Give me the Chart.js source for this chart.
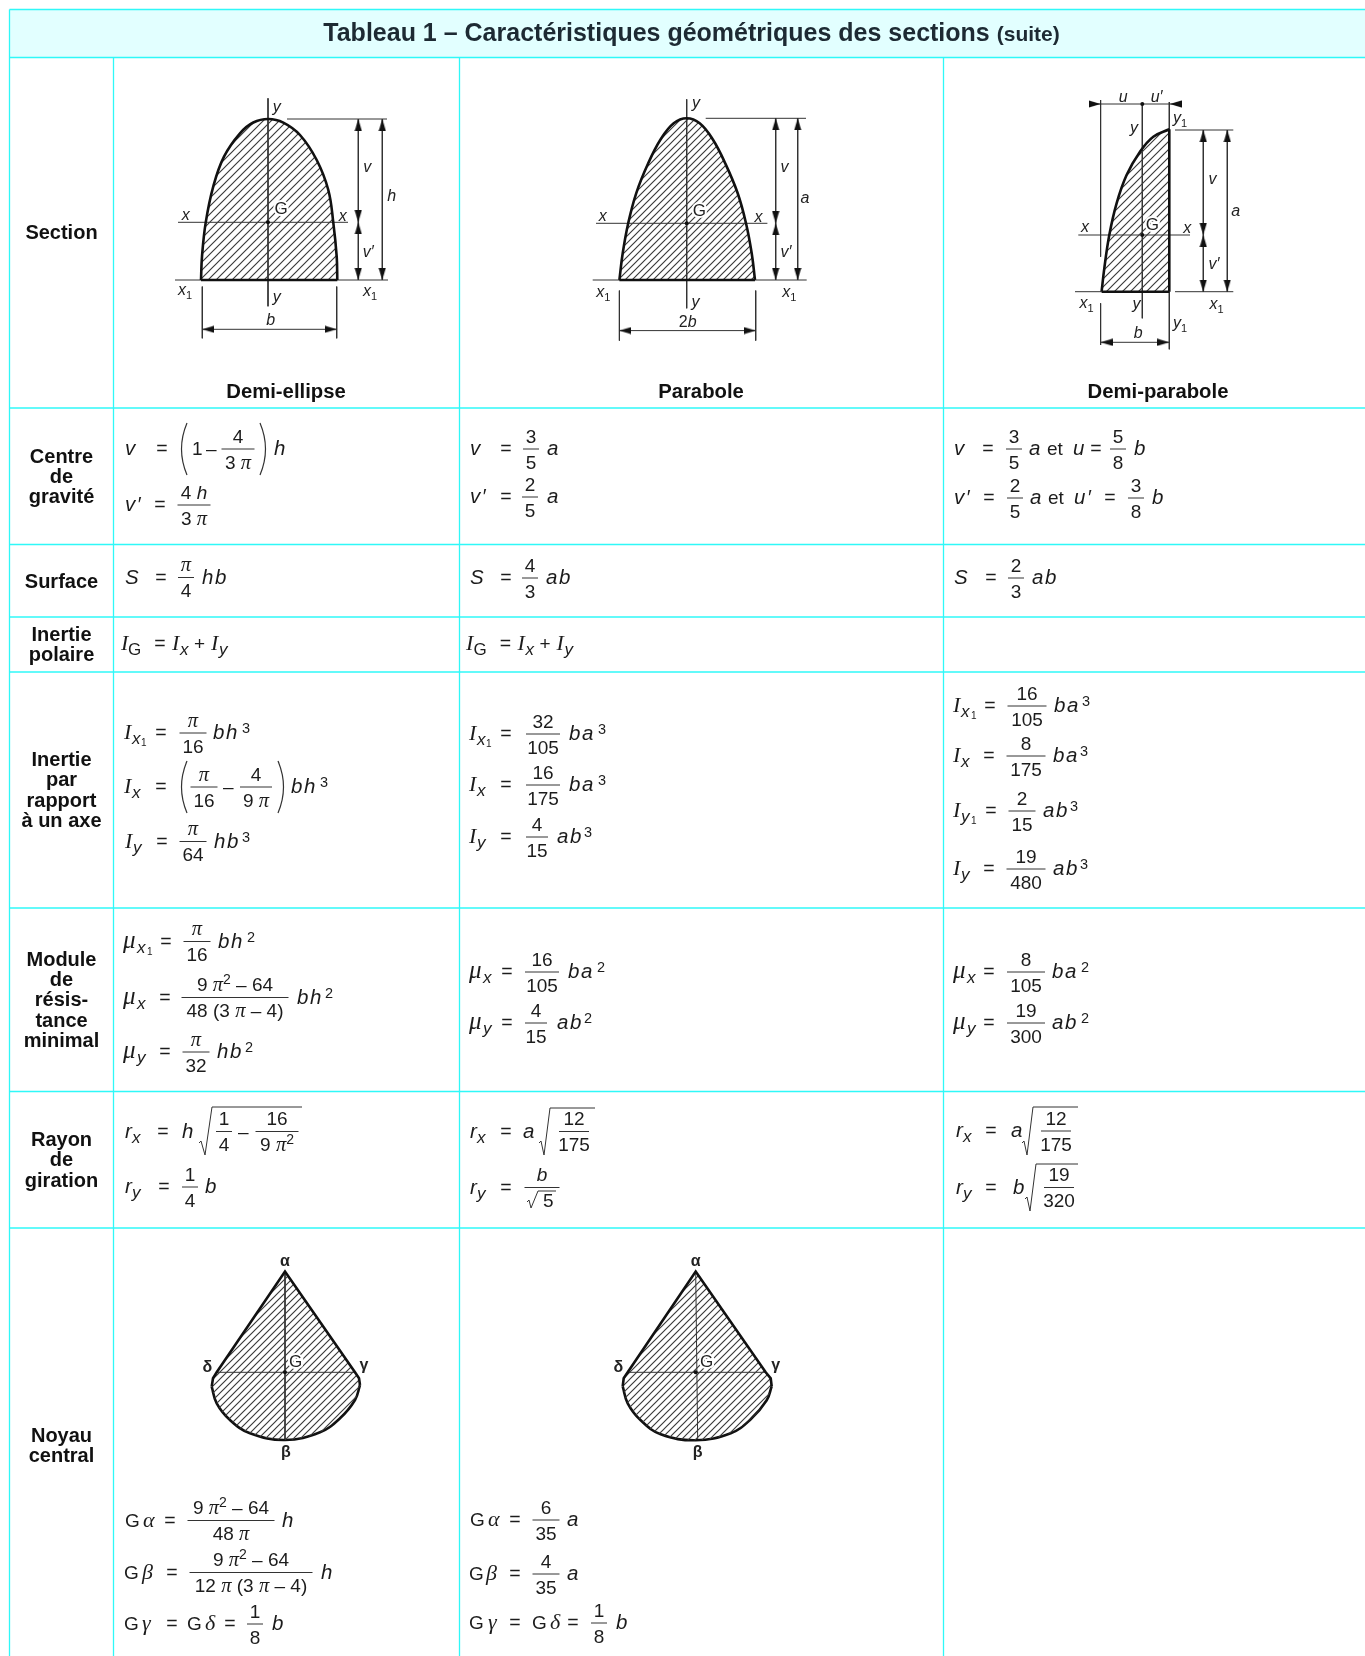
<!DOCTYPE html>
<html lang="fr">
<head>
<meta charset="utf-8">
<title>Tableau 1 – Caractéristiques géométriques des sections (suite)</title>
<script src="https://cdn.jsdelivr.net/npm/chart.js@4"></script>
<style>
html,body{margin:0;padding:0;background:#fff;width:1365px;height:1656px;overflow:hidden}
#page{position:relative;width:1365px;height:1656px}
canvas{position:absolute;display:block}
svg{position:absolute;left:0;top:0;pointer-events:none}
svg text{white-space:pre}
</style>
</head>
<body>
<div id="page"></div>
<script>
/* ---------- table text ---------- */
const tableTitle = 'Tableau 1 – Caractéristiques géométriques des sections ';
const tableTitleNote = '(suite)';
const rowLabels = [
  [239,'Section'],[463,'Centre'],[483,'de'],[503,'gravité'],[588,'Surface'],
  [641,'Inertie'],[661,'polaire'],[766,'Inertie'],[786,'par'],[807,'rapport'],[827,'à un axe'],
  [966,'Module'],[986,'de'],[1006,'résis-'],[1027,'tance'],[1047,'minimal'],
  [1146,'Rayon'],[1166,'de'],[1187,'giration'],[1442,'Noyau'],[1462,'central']
];
const sectionNames = [[286,'Demi-ellipse'],[701,'Parabole'],[1158,'Demi-parabole']];
const gridColumns = [9.5,113.5,459.5,943.5];
const gridRows = [9.5,57.5,408,544.5,617,672,908,1091.5,1228];

/* ---------- formulas: [fraction-bar height, tokens] ---------- */
const formulas = [
 // column 1
 [449,[['v',125,'v'],['=',162],['(',179],['r',192,'1'],['-',206],['f',238,33,'4','3 π'],[')',268],['v',274,'h']]],
 [505,[['v',125,'v′'],['=',160],['f',194,33,'4 h','3 π']]],
 [577.5,[['v',125,'S'],['=',161],['f',186,16,'π','4'],['v',202,'hb']]],
 [644,[['I',121],['sr',128,'G'],['=',160],['I',172],['s',180,'x'],['r',194,'+'],['I',211],['s',219,'y']]],
 [733,[['I',124],['s',132,'x'],['1',141],['=',161],['f',193,27,'π','16'],['v',213,'bh'],['p',242,'3']]],
 [787,[['I',124],['s',132,'x'],['=',161],['(',179],['f',204,27,'π','16'],['-',223],['f',256,32,'4','9 π'],[')',286],['v',291,'bh'],['p',320,'3']]],
 [841.5,[['I',125],['s',133,'y'],['=',162],['f',193,27,'π','64'],['v',214,'hb'],['p',242,'3']]],
 [941.5,[['mu',123],['s',137,'x'],['1',147],['=',166],['f',197,27,'π','16'],['v',218,'bh'],['p',247,'2']]],
 [997.5,[['mu',123],['s',137,'x'],['=',165],['f',235,107,'9 π^2 – 64','48 (3 π – 4)'],['v',297,'bh'],['p',325,'2']]],
 [1052,[['mu',123],['s',137,'y'],['=',165],['f',196,27,'π','32'],['v',217,'hb'],['p',245,'2']]],
 [1131.5,[['v',125,'r'],['s',132,'x'],['=',163],['v',182,'h'],['R',199,1141,205,1155,212,1107,302],['f',224,16,'1','4'],['-',238],['f',277,43,'16','9 π^2']]],
 [1187,[['v',125,'r'],['s',132,'y'],['=',164],['f',190,16,'1','4'],['v',205,'b']]],
 [1520.5,[['r',125,'G'],['g',143,'α'],['=',170],['f',231,87,'9 π^2 – 64','48 π'],['v',282,'h']]],
 [1572.5,[['r',124,'G'],['g',142,'β'],['=',172],['f',251,123,'9 π^2 – 64','12 π (3 π – 4)'],['v',321,'h']]],
 [1624,[['r',124,'G'],['g',142,'γ'],['=',172],['r',187,'G'],['g',205,'δ'],['=',230],['f',255,16,'1','8'],['v',272,'b']]],
 // column 2
 [449,[['v',470,'v'],['=',506],['f',531,16,'3','5'],['v',547,'a']]],
 [497,[['v',470,'v′'],['=',506],['f',530,16,'2','5'],['v',547,'a']]],
 [578,[['v',470,'S'],['=',506],['f',530,16,'4','3'],['v',546,'ab']]],
 [644,[['I',466],['sr',473.5,'G'],['=',505.5],['I',517.5],['s',525.5,'x'],['r',539.5,'+'],['I',556.5],['s',564.5,'y']]],
 [734,[['I',469],['s',477,'x'],['1',486],['=',506],['f',543,34,'32','105'],['v',569,'ba'],['p',598,'3']]],
 [785,[['I',469],['s',477,'x'],['=',506],['f',543,34,'16','175'],['v',569,'ba'],['p',598,'3']]],
 [837,[['I',469],['s',477,'y'],['=',506],['f',537,22,'4','15'],['v',557,'ab'],['p',584,'3']]],
 [972,[['mu',469],['s',483,'x'],['=',507],['f',542,34,'16','105'],['v',568,'ba'],['p',597,'2']]],
 [1023,[['mu',469],['s',483,'y'],['=',507],['f',536,22,'4','15'],['v',557,'ab'],['p',584,'2']]],
 [1131.5,[['v',470,'r'],['s',477,'x'],['=',506],['v',523,'a'],['R',539,1141,544,1155,550,1108,595],['f',574,30,'12','175']]],
 [1187.5,[['v',470,'r'],['s',477,'y'],['=',506],['f',542,35,'b',''],['R',527,1200,531,1208,538,1191,556],['r',543,'5',1206.5]]],
 [1520,[['r',470,'G'],['g',488,'α'],['=',515],['f',546,27,'6','35'],['v',567,'a']]],
 [1574,[['r',469,'G'],['g',486,'β'],['=',515],['f',546,27,'4','35'],['v',567,'a']]],
 [1623,[['r',469,'G'],['g',488,'γ'],['=',515],['r',532,'G'],['g',550,'δ'],['=',573],['f',599,16,'1','8'],['v',616,'b']]],
 // column 3
 [449,[['v',954,'v'],['=',988],['f',1014,16,'3','5'],['v',1029,'a'],['r',1047,'et'],['v',1073,'u'],['=',1096],['f',1118,16,'5','8'],['v',1134,'b']]],
 [498,[['v',954,'v′'],['=',989],['f',1015,16,'2','5'],['v',1030,'a'],['r',1048,'et'],['v',1074,'u′'],['=',1110],['f',1136,16,'3','8'],['v',1152,'b']]],
 [578,[['v',954,'S'],['=',991],['f',1016,16,'2','3'],['v',1032,'ab']]],
 [706,[['I',953],['s',961,'x'],['1',971],['=',990],['f',1027,39,'16','105'],['v',1054,'ba'],['p',1082,'3']]],
 [756,[['I',953],['s',961,'x'],['=',989],['f',1026,39,'8','175'],['v',1053,'ba'],['p',1080,'3']]],
 [811,[['I',953],['s',961,'y'],['1',971],['=',991],['f',1022,27,'2','15'],['v',1043,'ab'],['p',1070,'3']]],
 [869,[['I',953],['s',961,'y'],['=',989],['f',1026,39,'19','480'],['v',1053,'ab'],['p',1080,'3']]],
 [972,[['mu',953],['s',967,'x'],['=',989],['f',1026,38,'8','105'],['v',1052,'ba'],['p',1081,'2']]],
 [1023,[['mu',953],['s',967,'y'],['=',989],['f',1026,38,'19','300'],['v',1052,'ab'],['p',1081,'2']]],
 [1131,[['v',956,'r'],['s',963,'x'],['=',991],['v',1011,'a'],['R',1022,1141,1027,1155,1033,1107,1078],['f',1056,30,'12','175']]],
 [1187.5,[['v',956,'r'],['s',963,'y'],['=',991],['v',1013,'b'],['R',1025,1197,1030,1211,1036,1164,1078],['f',1059,30,'19','320']]]
];

/* ---------- section figures (units: figure units, origin at G, y upward) ---------- */
const ellipseOutline = [[-67,-57.7],[-66,-34.3],[-62.3,-0.3],[-54.7,36],[-44,65.7],[-28,89],[-14.7,99.8],[0.3,103.3],[15.3,99.7],[32,87.3],[48.7,62.3],[60.3,32.3],[65.3,-0.3],[68.7,-34.3],[69.3,-57.7]];
const ellipseThin = [[[0,124],[0,-84]],[[-90,0],[80,0]],[[-93,-57.7],[120,-57.7]],[[19,103.3],[119,103.3]],[[90.3,103.3],[90.3,-57.7]],[[114.3,103.3],[114.3,-57.7]],[[-65.7,-64.3],[-65.7,-116]],[[68.7,-64.3],[68.7,-116]],[[-65.7,-107],[68.7,-107]]];
const ellipseThick = [[[-67,-57.7],[69.3,-57.7]]];
const ellipseArrows = [[90.3,103.3,0],[90.3,0,180],[90.3,0,0],[90.3,-57.7,180],[114.3,103.3,0],[114.3,-57.7,180],[-65.7,-107,270],[68.7,-107,90]];
const ellipseLabels = [['y',8.7,115],['G',13,13,'r'],['x',-82.3,7.3],['x',74.7,6.3],['v',99.3,55.7],['h',123.7,26.7],['v′',100.3,-29.3],['x_1',-83,-67.7],['x_1',102,-68.7],['y',8.7,-74.3],['b',2.7,-97.7]];

const parabolaOutline = [[-67.3,-56.7],[-64,-30],[-58.5,0],[-50.5,30],[-38.5,60],[-26,84],[-13,100],[0,105],[13,100],[26,84],[38.5,60],[51,30],[59.3,0],[65,-30],[68.3,-56.7]];
const parabolaThin = [[[0,124],[0,-85]],[[-90.7,0],[80.7,0]],[[-94,-56.7],[120,-56.7]],[[19,105],[119.3,105]],[[89,105],[89,-56.7]],[[111,105],[111,-56.7]],[[-67.3,-67.3],[-67.3,-117.3]],[[69,-67.3],[69,-117.3]],[[-67.3,-107.3],[69,-107.3]]];
const parabolaThick = [[[-67.3,-56.7],[68.3,-56.7]]];
const parabolaArrows = [[89,105,0],[89,0,180],[89,0,0],[89,-56.7,180],[111,105,0],[111,-56.7,180],[-67.3,-107.3,270],[69,-107.3,90]];
const parabolaLabels = [['y',9.3,120.7],['G',12.7,12.7,'r'],['x',-84,7.7],['x',71.7,6.7],['v',97.7,56],['a',118.3,25.7],['v′',99.3,-29],['x_1',-83.3,-68.3],['x_1',102.7,-69],['y',8.7,-79],['2b',1,-98.3]];

const halfOutline = [[-40.7,-56.7],[-38,-33.3],[-33,0],[-25.7,31.7],[-15.7,60],[-2.3,83.3],[11,98.3],[27,105.7]];
const halfThin = [[[-64,0],[47.7,0]],[[-67.3,-56.7],[-40.7,-56.7]],[[32.7,-56.7],[91,-56.7]],[[32.7,105],[91,105]],[[61,105],[61,-56.7]],[[85,105],[85,-56.7]],[[0,131.7],[0,-83.3]],[[27,133],[27,105]],[[27,-56.7],[27,-114.3]],[[-41.7,135],[-41.7,-21.7]],[[-41.7,-68.3],[-41.7,-110]],[[-52.3,131],[39.3,131]],[[-41.7,-107.3],[27,-107.3]]];
const halfThick = [[[-40.7,-56.7],[27,-56.7]],[[27,105.7],[27,-56.7]]];
const halfArrows = [[-41.7,131,90],[27.5,131,270],[61,105,0],[61,0,180],[61,0,0],[61,-56.7,180],[85,105,0],[85,-56.7,180],[-41.7,-107.3,270],[27,-107.3,90]];
const halfDots = [[0,0],[0,131]];
const halfLabels = [['u',-19,138.3],['u′',14.3,138.3],['y_1',37.7,116.7],['y',-8.3,106.7],['G',10,10,'r'],['x',-57.3,8.3],['x',45,7.3],['v',70.3,55.7],['a',93.3,24.3],['v′',71.7,-29],['x_1',-55.7,-67.7],['y',-5.7,-69.3],['x_1',74.3,-69],['y_1',37.7,-88.3],['b',-4,-97.7]];

const dropOneUpper = [[-73.3,-14.3],[-72,-6],[-68.3,0],[0,100.7],[70,0],[74,-6],[75,-12.7]];
const dropOneLower = [[-73.3,-14.3],[-68.3,-31],[-55,-47.7],[-35,-61],[0,-67.7],[35,-60],[55,-46],[70,-27.7],[75,-12.7]];
const dropOneThin = [[[-68.3,0],[70,0]],[[0,100.7],[0,-67.7]]];
const dropOneLabels = [['G',10.7,10,'r'],['α',0,111.3,'g'],['β',1,-79.3,'g'],['δ',-77.7,5.7,'g'],['γ',79,7.3,'g']];

const dropTwoUpper = [[-73,-14],[-72,-6],[-68,0],[0,100.7],[70,0],[75,-6],[76,-14]];
const dropTwoLower = [[-73,-14],[-68,-31],[-55,-48],[-35,-62],[0,-68],[35,-61],[55,-47],[71,-28],[76,-14]];
const dropTwoThin = [[[-68,0],[70,0]],[[0,100.7],[2,-68]]];
const dropTwoLabels = [['G',11,10,'r'],['α',0,111.3,'g'],['β',2,-80,'g'],['δ',-77.3,5,'g'],['γ',80,7.3,'g']];

/* ---------- layout of the figures on the page ---------- */
const figures = [
 {origin:[268,222.3],rect:[150,90,260,265],base:-57.7,outline:ellipseOutline,thin:ellipseThin,thick:ellipseThick,arrows:ellipseArrows,dots:[[0,0]],labels:ellipseLabels,hatch:8},
 {origin:[686.7,223.3],rect:[570,90,260,265],base:-56.7,outline:parabolaOutline,thin:parabolaThin,thick:parabolaThick,arrows:parabolaArrows,dots:[[0,0]],labels:parabolaLabels,hatch:7},
 {origin:[1142.3,235],rect:[1060,90,200,275],base:-56.7,outline:halfOutline,thin:halfThin,thick:halfThick,arrows:halfArrows,dots:halfDots,labels:halfLabels,hatch:8},
 {origin:[285,1372.3],rect:[195,1250,180,200],upper:dropOneUpper,lower:dropOneLower,thin:dropOneThin,thick:[],arrows:[],dots:[[0,0]],labels:dropOneLabels,hatch:7},
 {origin:[695.7,1372.3],rect:[605,1250,180,200],upper:dropTwoUpper,lower:dropTwoLower,thin:dropTwoThin,thick:[],arrows:[],dots:[[0,0]],labels:dropTwoLabels,hatch:7}
];

/* ---------- svg overlay helpers ---------- */
const page = document.getElementById('page');
const NS = 'http://www.w3.org/2000/svg';
const SANS = "'Liberation Sans'", SERIF = "'Liberation Serif'";
const INK = '#1c1c1c', CYAN = '#2ff8f8';
function el(parent,name,attrs,text){
  const e = document.createElementNS(NS,name);
  for(const k in attrs) e.setAttribute(k,attrs[k]);
  if(text!==undefined) e.textContent = text;
  parent.appendChild(e); return e;
}
const under = el(page,'svg',{width:1365,height:1656,style:'z-index:0'});
const over = el(page,'svg',{width:1365,height:1656,style:'z-index:2'});

// mixed text: π serif italic, letters italic, ^c superscript, _c subscript
function write(x,y,str,size,opt={}){
  const t = el(over,'text',{x,y,'font-family':SANS,'font-size':size,fill:opt.fill||INK,'text-anchor':opt.anchor||'start'});
  if(opt.weight) t.setAttribute('font-weight',opt.weight);
  if(opt.spacing) t.setAttribute('letter-spacing',opt.spacing);
  if(opt.halo){ t.setAttribute('stroke','#fff'); t.setAttribute('stroke-width',4); t.setAttribute('paint-order','stroke'); }
  let back = 0;
  for(let i=0;i<str.length;i++){
    let c = str[i]; const a = {};
    if(c==='^'||c==='_'){
      const up = c==='^'; c = str[++i];
      a.dy = (up?-7:4)+back; back = up?7:-4;
      a['font-size'] = up?14:11;
    } else if(back){ a.dy = back; back = 0; }
    if(c==='π'){ a['font-family']=SERIF; a['font-style']='italic'; a['font-size']=size+1.5; }
    else if(/[A-Za-z′]/.test(c) && !opt.roman){ a['font-style']='italic'; }
    el(t,'tspan',a,c);
  }
  return t;
}
function bar(x1,x2,y){ el(over,'line',{x1,x2,y1:y,y2:y,stroke:'#333','stroke-width':1}); }

function drawToken(tk,barY){
  const k = tk[0], x = tk[1], base = barY+6;
  switch(k){
    case 'v': write(x,base,tk[2],20.5,{spacing:1.6}); break;
    case 'r': write(x,tk[3]||base,tk[2],19,{roman:true}); break;
    case '=': write(x,base,'=',19.5,{anchor:'middle',roman:true}); break;
    case '-': write(x,base,'–',19,{roman:true}); break;
    case 'I': el(over,'text',{x,y:base,'font-family':SERIF,'font-style':'italic','font-size':22,fill:INK},'I'); break;
    case 'mu': el(over,'text',{x,y:base,'font-family':SERIF,'font-style':'italic','font-size':25,fill:INK},'μ'); break;
    case 'g': el(over,'text',{x,y:base,'font-family':SERIF,'font-style':'italic','font-size':22,fill:INK},tk[2]); break;
    case 's': write(x,base+5,tk[2],17); break;
    case 'sr': write(x,base+5,tk[2],17,{roman:true}); break;
    case '1': write(x,base+7,'1',10,{roman:true}); break;
    case 'p': write(x,barY,tk[2],14.5,{roman:true}); break;
    case '(': case ')': {
      const g = el(over,'path',{fill:'none',stroke:'#333','stroke-width':1.2,
        d:k==='(' ? `M${x+8} ${barY-26}Q${x-3} ${barY} ${x+8} ${barY+26}` : `M${x-8} ${barY-26}Q${x+3} ${barY} ${x-8} ${barY+26}`});
      g.setAttribute('aria-label',k);
      break;
    }
    case 'f': {
      const [, cx, w, num, den] = tk;
      bar(cx-w/2,cx+w/2,barY);
      write(cx,barY-6.5,num,19,{anchor:'middle'});
      if(den) write(cx,barY+19.5,den,19,{anchor:'middle'});
      break;
    }
    case 'R': {
      const [, xa, ya, xb, yb, xc, yc, xd] = tk;
      el(over,'polyline',{fill:'none',stroke:'#333','stroke-width':1,points:`${xa},${ya+2} ${xa+2},${ya} ${xb},${yb} ${xc},${yc} ${xd},${yc}`});
      break;
    }
  }
}

/* ---------- table ---------- */
el(under,'rect',{x:gridColumns[0],y:gridRows[0],width:1365-gridColumns[0],height:gridRows[1]-gridRows[0],fill:'#e2ffff'});
gridRows.forEach(y=>el(under,'line',{x1:gridColumns[0],x2:1365,y1:y,y2:y,stroke:CYAN,'stroke-width':1.3}));
el(under,'line',{x1:gridColumns[0],x2:gridColumns[0],y1:gridRows[0],y2:1656,stroke:CYAN,'stroke-width':1.3});
gridColumns.slice(1).forEach(x=>el(under,'line',{x1:x,x2:x,y1:gridRows[1],y2:1656,stroke:CYAN,'stroke-width':1.3}));

const head = el(over,'text',{x:691.5,y:41,'text-anchor':'middle','font-family':SANS,'font-weight':700,'font-size':25,fill:'#1d2a33'});
el(head,'tspan',{},tableTitle);
el(head,'tspan',{'font-size':21},tableTitleNote);
rowLabels.forEach(([y,s])=>el(over,'text',{x:61.5,y,'text-anchor':'middle','font-family':SANS,'font-weight':700,'font-size':20,fill:'#111'},s));
sectionNames.forEach(([x,s])=>el(over,'text',{x,y:398,'text-anchor':'middle','font-family':SANS,'font-weight':700,'font-size':20.3,fill:'#111'},s));
formulas.forEach(([y,toks])=>toks.forEach(tk=>drawToken(tk,y)));

/* ---------- Chart.js figures ---------- */
function hatchPattern(step){
  const c = document.createElement('canvas'); c.width = c.height = step;
  const g = c.getContext('2d');
  g.strokeStyle = '#3a3a3a'; g.lineWidth = 1.15;
  g.beginPath();
  g.moveTo(-1,step+1); g.lineTo(step+1,-1);
  g.moveTo(-1,1); g.lineTo(1,-1);
  g.moveTo(step-1,step+1); g.lineTo(step+1,step-1);
  g.stroke();
  return g.createPattern(c,'repeat');
}
function arrowImage(){
  const c = document.createElement('canvas'); c.width = 8; c.height = 12;
  const g = c.getContext('2d');
  g.fillStyle = '#111';
  g.beginPath(); g.moveTo(4,0); g.lineTo(7.6,12); g.lineTo(0.4,12); g.closePath(); g.fill();
  return c;
}
const arrowPic = arrowImage();
const toXY = p => ({x:p[0],y:p[1]});
function stroke(points,width,extra){
  return Object.assign({data:points.map(toXY),showLine:true,borderColor:'#222',borderWidth:width,pointRadius:0,tension:0,fill:false},extra||{});
}
function drawFigure(f){
  const [rx,ry,rw,rh] = f.rect, [ox,oy] = f.origin;
  const cv = document.createElement('canvas');
  cv.width = rw; cv.height = rh;
  cv.style.cssText = `left:${rx}px;top:${ry}px;width:${rw}px;height:${rh}px;z-index:1`;
  page.appendChild(cv);
  const pattern = hatchPattern(f.hatch);
  const sets = [];
  if(f.arrows.length){
    const rad = d=>d*Math.PI/180;
    sets.push({data:f.arrows.map(a=>({x:a[0]-6*Math.sin(rad(a[2])),y:a[1]-6*Math.cos(rad(a[2]))})),
      showLine:false,pointStyle:arrowPic,pointRadius:5,pointRotation:f.arrows.map(a=>a[2])});
  }
  sets.push({data:f.dots.map(toXY),showLine:false,pointStyle:'circle',pointRadius:2,backgroundColor:'#111',borderWidth:0});
  f.thick.forEach(s=>sets.push(stroke(s,2.6,{borderColor:'#111'})));
  if(f.outline){
    sets.push(stroke(f.outline,2.6,{borderColor:'#111',tension:0.4,fill:{value:f.base},backgroundColor:pattern}));
  } else {
    sets.push(stroke(f.upper,2.6,{borderColor:'#111',fill:'+1',backgroundColor:pattern}));
    sets.push(stroke(f.lower,2.6,{borderColor:'#111',tension:0.4}));
  }
  f.thin.forEach(s=>sets.push(stroke(s,1,{borderColor:'#333'})));
  const chart = new Chart(cv,{
    type:'scatter',
    data:{datasets:sets},
    options:{
      responsive:false,animation:false,events:[],
      layout:{padding:0,autoPadding:false},
      plugins:{legend:{display:false},tooltip:{enabled:false},title:{display:false}},
      scales:{
        x:{type:'linear',display:false,min:rx-ox,max:rx+rw-ox},
        y:{type:'linear',display:false,min:oy-(ry+rh),max:oy-ry}
      }
    }
  });
  f.labels.forEach(l=>{
    const px = rx+chart.scales.x.getPixelForValue(l[1]), py = ry+chart.scales.y.getPixelForValue(l[2])+5;
    if(l[3]==='g') el(over,'text',{x:px,y:py,'text-anchor':'middle','font-family':SANS,'font-weight':700,'font-size':16,fill:'#222'},l[0]);
    else write(px,py,l[0],l[3]==='r'?17:16,{anchor:'middle',roman:l[3]==='r',fill:'#222',halo:l[3]==='r'});
  });
}
figures.forEach(drawFigure);
</script>
</body>
</html>
